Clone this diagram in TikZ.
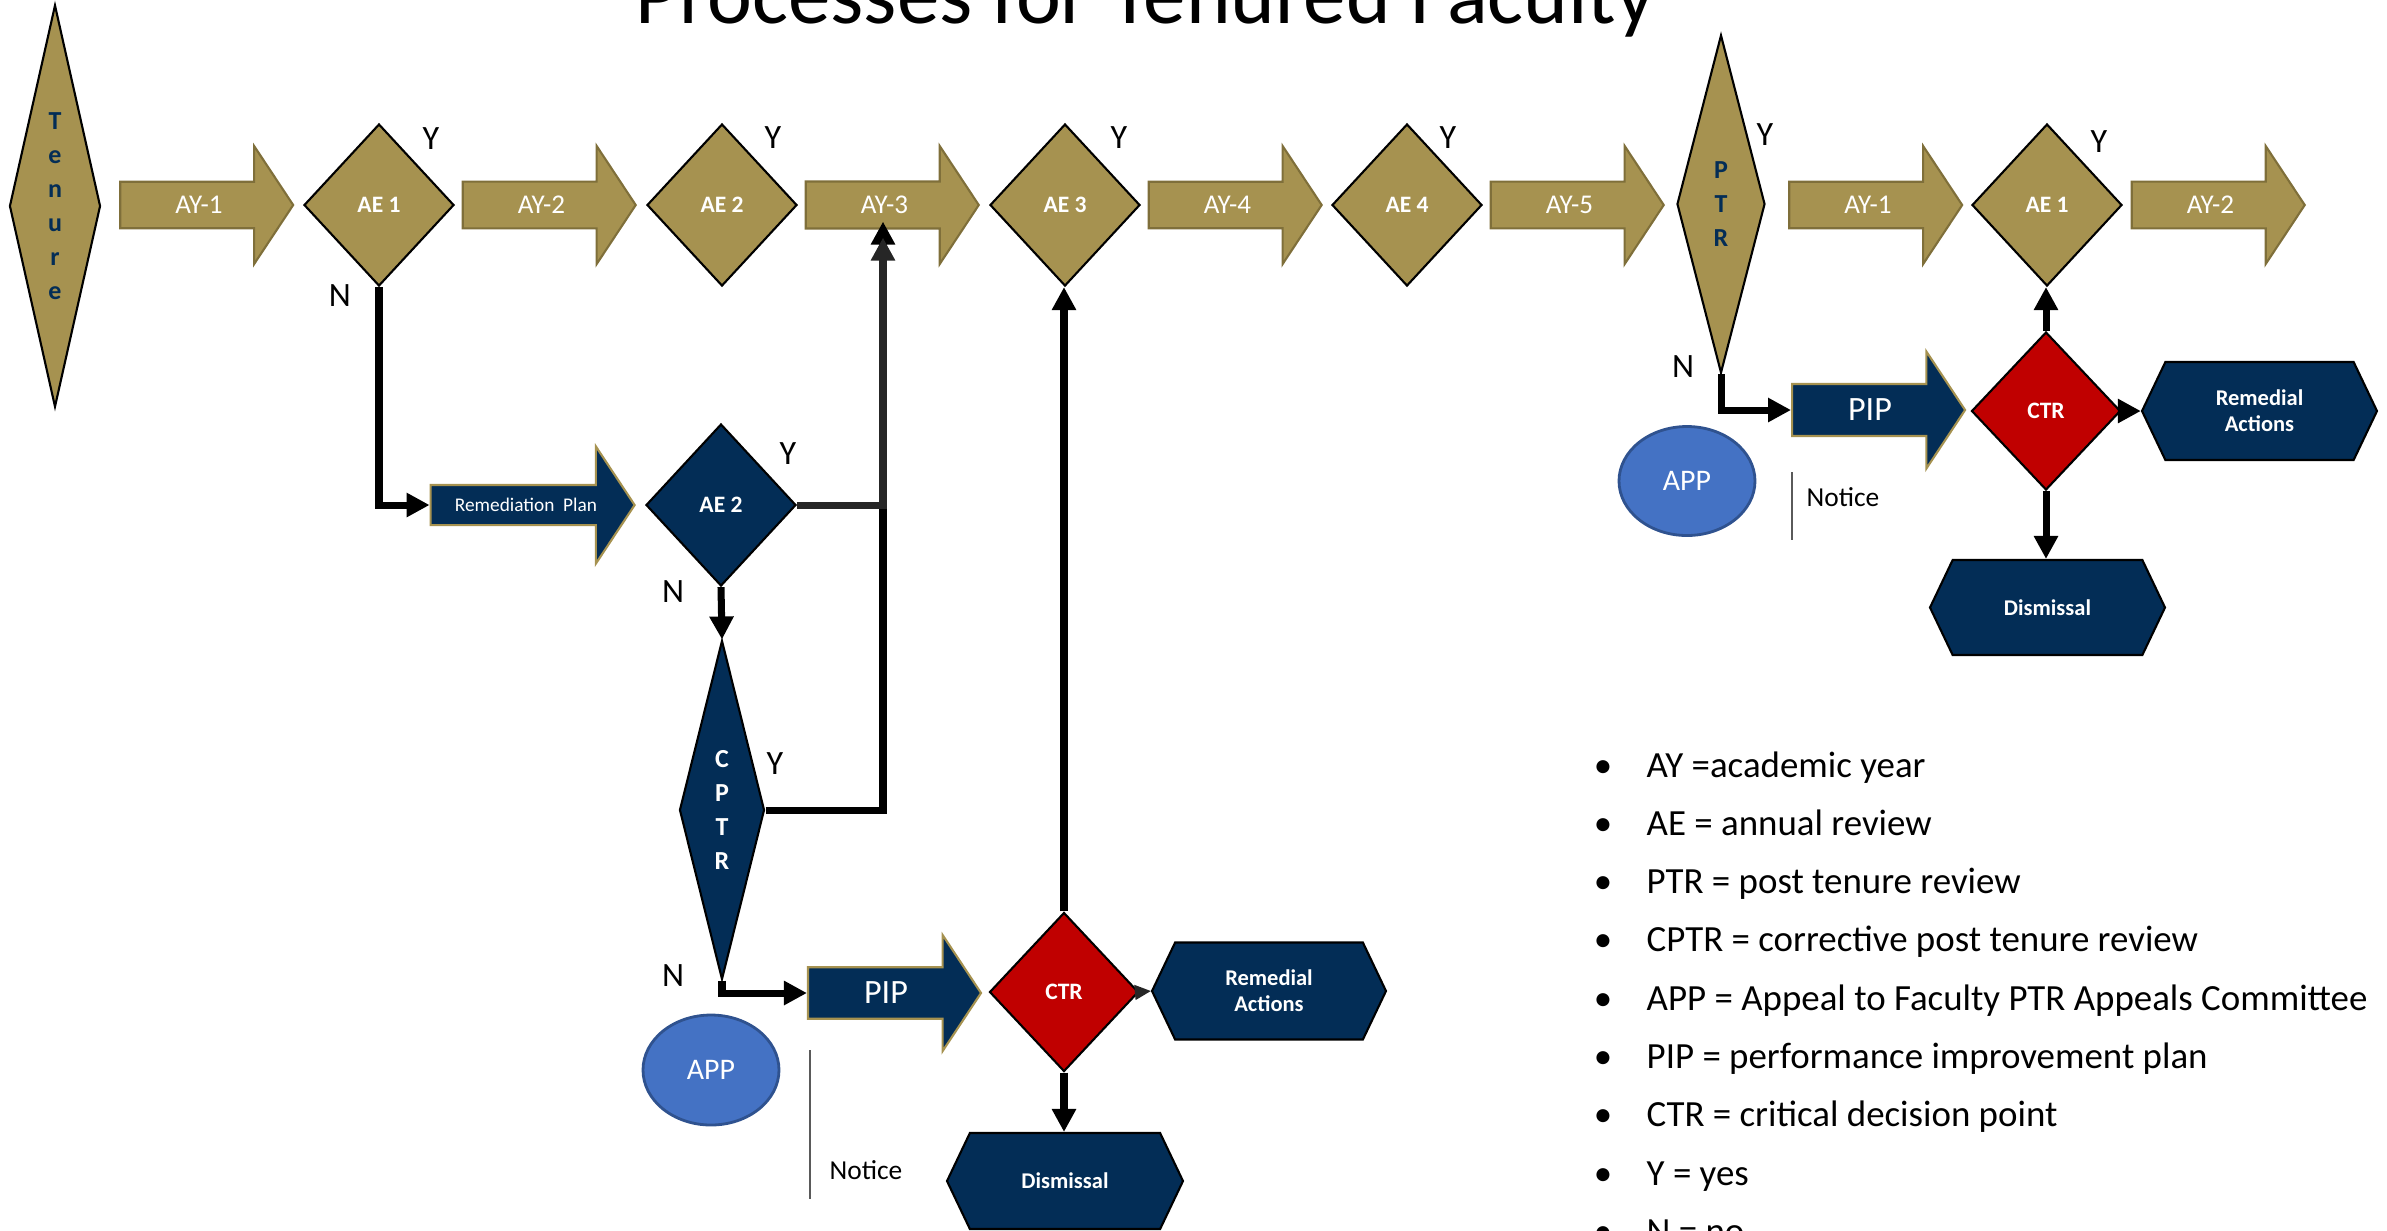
\documentclass[tikz,border=0pt]{standalone}
\usepackage{fontspec}
\setmainfont{Carlito}
\usepackage{tikz}
\usetikzlibrary{positioning,arrows.meta,shapes.geometric,shapes.arrows,shapes.symbols}

\definecolor{tgold}{RGB}{166,146,80}
\definecolor{tgoldline}{RGB}{127,111,58}
\definecolor{tnavy}{RGB}{3,45,86}
\definecolor{tred}{RGB}{192,0,0}
\definecolor{tapp}{RGB}{68,114,196}
\definecolor{tappline}{RGB}{47,82,143}
\definecolor{tgray}{RGB}{38,38,38}
\definecolor{tnote}{RGB}{90,90,90}

\begin{document}
\begin{tikzpicture}[x=0.1mm,y=-0.1mm,every node/.style={inner sep=0pt},
	yearbox/.style={single arrow,draw=tgoldline,fill=tgold,line width=0.6pt,
		single arrow head extend=1.5mm,single arrow tip angle=113,
		minimum height=17.3mm,minimum width=11.8mm,text=white,
		font=\fontsize{7.7}{9}\selectfont},
	planbox/.style={yearbox,fill=tnavy,draw=tgold},
	review/.style={diamond,draw=black,line width=0.6pt,fill=tgold,
		minimum width=15mm,minimum height=16.2mm,text=white,
		font=\bfseries\fontsize{6.7}{8}\selectfont},
	gate/.style={diamond,aspect=0.25,draw=black,line width=0.6pt,fill=tgold,
		text=tnavy,align=center,font=\bfseries\fontsize{7.4}{9.67}\selectfont},
	outcome/.style={signal,signal to=east and west,signal pointer angle=129,
		draw=black,line width=0.6pt,fill=tnavy,text=white,align=center,
		minimum width=23.5mm,minimum height=9.7mm,
		font=\bfseries\fontsize{6.4}{7.4}\selectfont},
	appeal/.style={ellipse,draw=tappline,line width=0.8pt,fill=tapp,
		minimum width=13.6mm,minimum height=11mm,text=white,
		font=\fontsize{8.5}{10}\selectfont},
	yn/.style={font=\fontsize{9.7}{11}\selectfont},
	notefont/.style={font=\fontsize{7.8}{9}\selectfont},
	keyfont/.style={font=\fontsize{10.5}{12}\selectfont},
	flow/.style={line width=2pt,-{Triangle[length=2.3mm,width=2.3mm]}}]

	\useasboundingbox (0,0) rectangle (2387,1230);

	%title
	\node[font=\fontsize{24.2}{28}\selectfont,anchor=base] (title) at (1145,23) {Processes for Tenured Faculty};

	%top row
	\node[gate,minimum width=9.1mm,minimum height=40.2mm] (tenure) at (55,206) {T\\e\\n\\u\\r\\e};
	\node[yearbox] (ay1) at (199,205) {AY-1};
	\node[review] (ae1) at (379,205) {AE 1};
	\node[yearbox] (ay2) at (541.5,205) {AY-2};
	\node[review] (ae2) at (722,205) {AE 2};
	\node[yearbox] (ay3) at (884.5,205) {AY-3};
	\node[review] (ae3) at (1065,205) {AE 3};
	\node[yearbox] (ay4) at (1227.5,205) {AY-4};
	\node[review] (ae4) at (1407,205) {AE 4};
	\node[yearbox] (ay5) at (1569.5,205) {AY-5};
	\node[gate,minimum width=8.8mm,minimum height=33.8mm] (ptr) at (1721,204) {P\\T\\R};
	\node[yearbox] (ay1b) at (1868,205) {AY-1};
	\node[review] (ae1b) at (2047,205) {AE 1};
	\node[yearbox] (ay2b) at (2210.5,205) {AY-2};

	%remediation branch
	\node[planbox,minimum height=20.4mm,minimum width=11.7mm,font=\fontsize{5.5}{7}\selectfont] (rp) at (526,505) {Remediation\ \ Plan};
	\node[review,fill=tnavy] (ae2b) at (721,505) {AE 2};
	\node[gate,fill=tnavy,text=white,minimum width=8.5mm,minimum height=33.9mm] (cptr) at (722,810) {C\\P\\T\\R};
	\node[planbox,minimum width=11.6mm,font=\fontsize{9.7}{11}\selectfont] (pip) at (886,993) {PIP};
	\node[review,fill=tred,minimum width=14.9mm,minimum height=15.9mm] (ctr) at (1064,992) {CTR};
	\node[outcome,minimum width=23.4mm] (rem) at (1269,991) {Remedial\\Actions};
	\node[outcome,minimum width=23.6mm,minimum height=9.6mm] (dis) at (1065,1181) {Dismissal};
	\node[appeal] (app) at (711,1070) {APP};
	\node[notefont,anchor=west] (notice) at (829,1170) {Notice};

	%post tenure review branch
	\node[planbox,minimum width=11.7mm,font=\fontsize{9.7}{11}\selectfont] (pip2) at (1870,410) {PIP};
	\node[review,fill=tred,minimum width=14.9mm,minimum height=15.8mm] (ctr2) at (2046,411) {CTR};
	\node[outcome,minimum height=9.8mm] (rem2) at (2259.5,411) {Remedial\\Actions};
	\node[outcome,minimum height=9.5mm] (dis2) at (2047.5,607.5) {Dismissal};
	\node[appeal,minimum height=10.9mm] (app2) at (1687,481) {APP};
	\node[notefont,anchor=west] (notice2) at (1806,497) {Notice};

	%yes / no labels
	\node[yn] (y1) at (431,139) {Y};
	\node[yn] (n1) at (340,296) {N};
	\node[yn] (y2) at (773,138) {Y};
	\node[yn] (y3) at (1119,138) {Y};
	\node[yn] (y4) at (1448,138) {Y};
	\node[yn] (y5) at (1765,135) {Y};
	\node[yn] (n5) at (1683,367) {N};
	\node[yn] (y6) at (2099,142) {Y};
	\node[yn] (y7) at (788,454) {Y};
	\node[yn] (n7) at (673,592) {N};
	\node[yn] (y8) at (775,764) {Y};
	\node[yn] (n8) at (673,976) {N};

	%edges
	\coordinate (riser) at (883,810);
	\draw[flow] (ae1.south) |- (rp.west);
	\draw[flow] (ae2b.south) -- (cptr.north);
	\draw[flow] (cptr.east) -| ([yshift=0.8mm]ay3.south -| riser);
	\draw[flow,tgray] (ae2b.east) -| ([yshift=-0.8mm]ay3.south -| riser);
	\draw[flow] (cptr.south) |- (pip.west);
	\draw[flow] (ctr.north) -- (ctr.north |- ae3.south);
	\draw[flow] (ctr.south) -- (ctr.south |- dis.north);
	\draw[tgray,line width=0.4pt,-{Triangle[length=1.6mm,width=1.5mm]}] (ctr.east) -- (rem.west);

	\draw[flow] (ptr.south) |- (pip2.west);
	\draw[flow] (ctr2.north) -- (ctr2.north |- ae1b.south);
	\draw[flow] (ctr2.east) -- (rem2.west);
	\draw[flow] (ctr2.south) -- (ctr2.south |- dis2.north);

	%notice bars
	\draw[tnote,line width=0.5pt] (810,1050) -- (810,1199);
	\draw[tnote,line width=0.5pt] (1792,472) -- (1792,540);

	%key
	\foreach \entry [count=\k from 0] in {AY =academic year,AE = annual review,PTR = post tenure review,CPTR = corrective post tenure review,APP = Appeal to Faculty PTR Appeals Committee,PIP = performance improvement plan,CTR = critical decision point,Y = yes,N = no}{
		\node[keyfont,anchor=base] (dot\k) at (1603,{777+58.3*\k}) {\textbullet};
		\node[keyfont,anchor=base west] (key\k) at (1646,{777+58.3*\k}) {\entry};
	}
\end{tikzpicture}
\end{document}
